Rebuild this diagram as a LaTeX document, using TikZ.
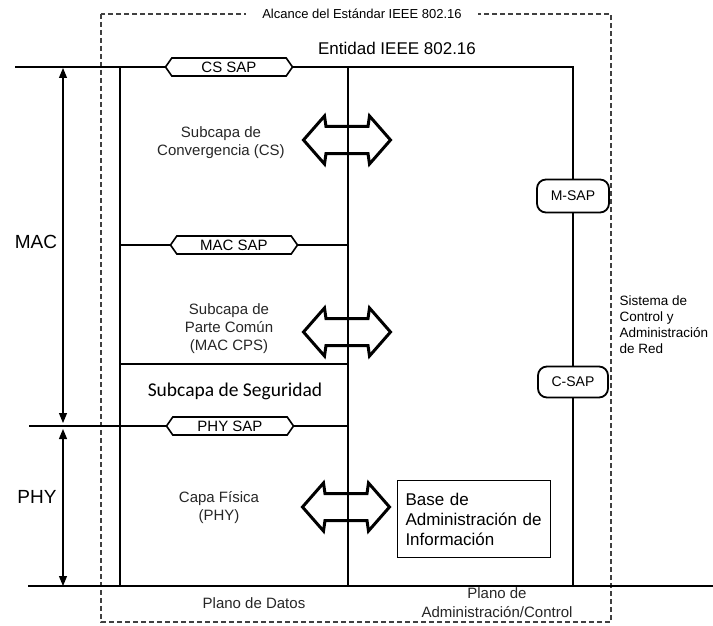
\documentclass[tikz,border=0pt]{standalone}
\usepackage{fontspec}
\setmainfont{Liberation Sans}
\newfontfamily\calibri{Carlito}
\usetikzlibrary{arrows.meta, positioning, shapes.symbols}

\begin{document}
\begin{tikzpicture}[x=1pt, y=-1pt,
    frame/.style={line width=1.8pt},
    lbl/.style={font=\fontsize{15}{18}\selectfont, align=center, text=black!85},
    sap/.style={signal, signal to=east and west, signal pointer angle=110,
                draw, fill=white, line width=1.6pt, minimum width=127pt,
                minimum height=18pt, inner sep=0pt,
                font=\fontsize{15}{18}\selectfont},
    rsap/.style={draw, fill=white, rounded corners=9pt, line width=1.8pt,
                 minimum width=72pt, minimum height=33pt,
                 font=\fontsize{14}{16}\selectfont},
    blockarrow/.pic={
      \draw[line width=3pt, miter limit=4]
        (-43.5,0) -- (-22.5,-24) -- (-21,-13.5) -- (21,-13.5) -- (22.5,-24)
        -- (43.5,0) -- (22.5,24) -- (21,13.5) -- (-21,13.5) -- (-22.5,24)
        -- cycle;
    },
    span/.style={line width=1.1pt, {Triangle[length=10pt,width=8pt]}-{Triangle[length=10pt,width=8pt]}}
  ]
  \useasboundingbox (0,0) rectangle (713,626);

  % Scope of the standard
  \draw[line width=1.5pt, black!75, dash pattern=on 5pt off 3pt]
    (101,14) rectangle (611,622);
  \node[fill=white, inner xsep=16pt, font=\fontsize{13}{15}\selectfont] (scope)
    at (362,14) {Alcance del Estándar IEEE 802.16};
  \node[font=\fontsize{17}{20}\selectfont] (entity) at (397,48)
    {Entidad IEEE 802.16};

  % Frame corners
  \coordinate (topL) at (15,67);
  \coordinate (topA) at (120,67);
  \coordinate (topB) at (348,67);
  \coordinate (topR) at (573,67);
  \coordinate (botL) at (28,586);
  \coordinate (botA) at (120,586);
  \coordinate (botB) at (348,586);
  \coordinate (botR) at (573,586);
  \coordinate (botE) at (713,586);
  \coordinate (macL) at (120,245);
  \coordinate (macR) at (348,245);
  \coordinate (secL) at (120,364);
  \coordinate (secR) at (348,364);
  \coordinate (phyL) at (29,426);
  \coordinate (phyR) at (348,426);

  \draw[frame] (topL) -- (topR) -- (botR);
  \draw[frame] (topA) -- (botA);
  \draw[frame] (topB) -- (botB);
  \draw[frame] (botL) -- (botE);
  \draw[frame] (macL) -- (macR);
  \draw[frame] (secL) -- (secR);
  \draw[frame] (phyL) -- (phyR);

  % Service access points
  \node[sap] (cssap) at (229,67) {CS SAP};
  \node[sap] (macsap) at (234,245) {MAC SAP};
  \node[sap] (physap) at (230,426) {PHY SAP};
  \node[rsap] (msap) at (573,196) {M-SAP};
  \node[rsap, minimum width=70pt, minimum height=31pt] (csap) at (573,382) {C-SAP};

  % MAC / PHY spans
  \coordinate (macT) at (63,68);
  \coordinate (macB) at (63,423);
  \coordinate (phyT) at (63,429);
  \coordinate (phyB) at (63,586);
  \draw[span] (macT) -- (macB);
  \draw[span] (phyT) -- (phyB);
  \node[font=\fontsize{19}{22}\selectfont] (mac) at (36,242) {MAC};
  \node[font=\fontsize{19}{22}\selectfont] (phy) at (37,497) {PHY};

  % Sublayers
  \node[lbl] (cs) at (221,143) {Subcapa de\\Convergencia (CS)};
  \node[lbl] (cps) at (229,329) {Subcapa de\\Parte Común\\(MAC CPS)};
  \node[font=\calibri\fontsize{19.5}{22}\selectfont] (sec) at (235,391)
    {Subcapa de Seguridad};
  \node[lbl] (phys) at (219,508) {Capa Física\\(PHY)};

  % Block arrows
  \pic (csarr) at (347,140) {blockarrow};
  \pic (cpsarr) at (347,332) {blockarrow};
  \pic (phyarr) at (346,507) {blockarrow};

  % Management side
  \node[draw, line width=0.9pt, minimum width=153pt, minimum height=77pt,
        text width=137pt, align=left, inner sep=8pt,
        font=\fontsize{17}{20}\selectfont] (mib) at (474,519)
    {Base de\\Administración de\\Información};
  \node[anchor=west, align=left, font=\fontsize{13.5}{16}\selectfont] (nms)
    at (616,325) {Sistema de\\Control y\\Administración\\de Red};

  % Planes
  \node[lbl] (data) at (254,603) {Plano de Datos};
  \node[lbl, font=\fontsize{15}{19}\selectfont] (mgmt) at (497,603)
    {Plano de\\Administración/Control};
\end{tikzpicture}
\end{document}
